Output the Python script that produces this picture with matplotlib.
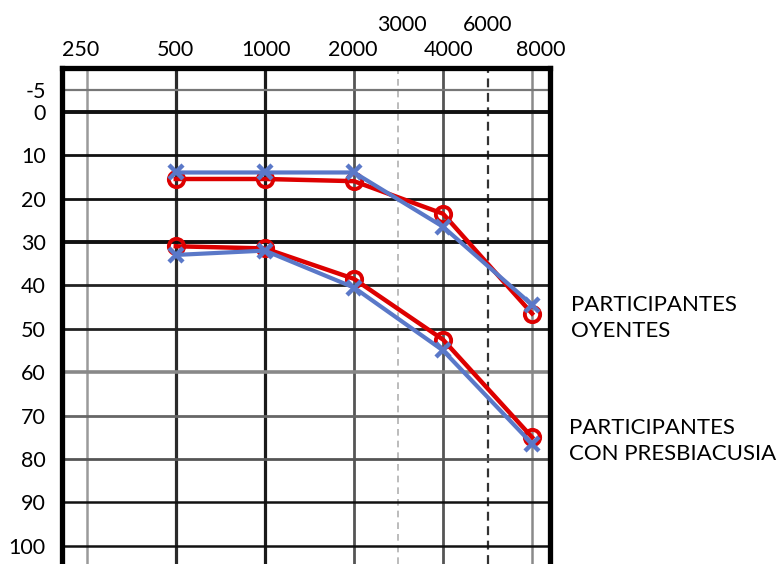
import numpy as np
import matplotlib.pyplot as plt
from matplotlib.transforms import ScaledTranslation

plt.rcParams['font.family'] = ['Lato', 'DejaVu Sans']

# Audiogram data (dB HL)
freqs = [500, 1000, 2000, 4000, 8000]
oyentes_red = [15.5, 15.5, 16, 23.5, 46.5]
oyentes_blue = [14, 14, 14, 26.5, 44.5]
presb_red = [31, 31.5, 38.5, 52.5, 75]
presb_blue = [33, 32, 40.5, 55, 76.5]

grid_freqs = [250, 500, 1000, 2000, 4000, 8000]
grid_labels = ['250', '500', '1000', '2000', '4000', '8000']
half_labels = ['3000', '6000']
db_ticks = [-5, 0, 10, 20, 30, 40, 50, 60, 70, 80, 90, 100]

RED = '#dd0000'
BLUE = '#5a78c8'

fig = plt.figure(figsize=(7.77, 5.64), dpi=100, facecolor='white')
ax = fig.add_axes([0.0804, 0.0, 0.628, 0.8789])

ax.set_xscale('log', base=2)
ax.set_xlim(250 * 2 ** -0.272, 8000 * 2 ** 0.206)
ax.set_ylim(104.2, -10)

# half-octave (3000 / 6000) lines sit midway between octaves, audiogram style
half_pos = [np.sqrt(2000 * 4000), np.sqrt(4000 * 8000)]

# grid: scanned-look lines with varying darkness
v_colors = ['#9a9a9a', '#2a2a2a', '#1a1a1a', '#555555', '#555555', '#8a8a8a']
v_widths = [1.8, 2.3, 2.3, 2.0, 2.0, 1.8]
for f, c, w in zip(grid_freqs, v_colors, v_widths):
    ax.axvline(f, color=c, lw=w, zorder=1)
ax.axvline(half_pos[0], color='#b0b0b0', lw=1.2, ls=(0, (4, 3)), zorder=1)
ax.axvline(half_pos[1], color='#333333', lw=1.6, ls=(0, (4, 2.5)), zorder=1)

h_colors = ['#777777', '#111111', '#111111', '#111111', '#111111', '#222222',
            '#222222', '#888888', '#666666', '#555555', '#111111', '#111111']
h_widths = [1.6, 2.8, 2.0, 2.0, 2.8, 2.0, 2.0, 2.6, 2.0, 2.0, 1.8, 1.8]
for d, c, w in zip(db_ticks, h_colors, h_widths):
    ax.axhline(d, color=c, lw=w, zorder=1)

# curves
for red, blue in [(oyentes_red, oyentes_blue), (presb_red, presb_blue)]:
    ax.plot(freqs, red, color=RED, lw=3.2, marker='o', ms=11,
            mfc='none', mec=RED, mew=2.8, zorder=3)
    ax.plot(freqs, blue, color=BLUE, lw=3.0, marker='x', ms=10,
            mec=BLUE, mew=3.2, zorder=4)

# axes frame
for side in ['left', 'right', 'top']:
    ax.spines[side].set_linewidth(3.8)
    ax.spines[side].set_color('black')
ax.spines['bottom'].set_visible(False)

ax.xaxis.tick_top()
ax.set_xticks(grid_freqs)
ax.set_xticklabels(grid_labels)
ax.set_xticks(half_pos, minor=True)
ax.set_xticklabels(half_labels, minor=True)
ax.tick_params(axis='x', which='major', length=0, pad=6, labelsize=15.5)
ax.tick_params(axis='x', which='minor', length=0, pad=24, labelsize=15.5)

# the printed labels sit slightly off their lines in the original
major_shift = [-6, 0, 1, -1, 6, 9]
minor_shift = [3, 0]
for lab, dx in zip(ax.get_xticklabels(), major_shift):
    lab.set_transform(lab.get_transform() + ScaledTranslation(dx / 100, 0, fig.dpi_scale_trans))
for lab, dx in zip(ax.get_xticklabels(minor=True), minor_shift):
    lab.set_transform(lab.get_transform() + ScaledTranslation(dx / 100, 0, fig.dpi_scale_trans))

ax.set_yticks(db_ticks)
ax.set_yticklabels([str(d) for d in db_ticks])
ax.yaxis.set_minor_locator(plt.NullLocator())
ax.tick_params(axis='y', length=0, pad=12, labelsize=15.5)

fig.text(571 / 777, 1 - 318 / 564, 'PARTICIPANTES\nOYENTES', fontsize=16,
         ha='left', va='center', linespacing=1.35)
fig.text(569 / 777, 1 - 441 / 564, 'PARTICIPANTES\nCON PRESBIACUSIA', fontsize=16,
         ha='left', va='center', linespacing=1.35)

fig.savefig('out.png', dpi=100, facecolor='white')
